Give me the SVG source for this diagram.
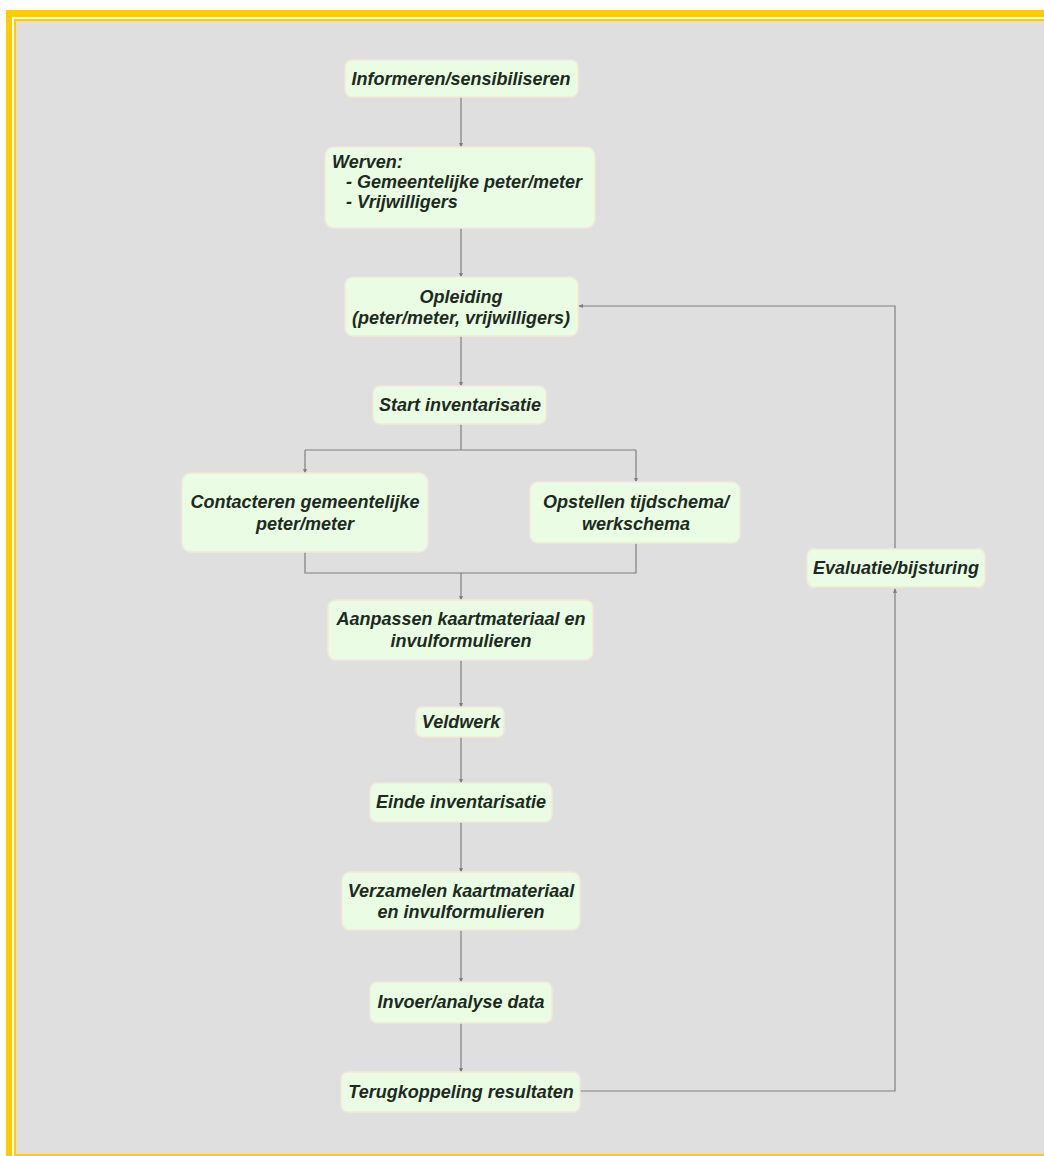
<svg xmlns="http://www.w3.org/2000/svg" width="1044" height="1156" viewBox="0 0 1044 1156">
<style>
.box{fill:#eafde4;stroke:#f2e9d8;stroke-width:1.5}
.t{font-family:"Liberation Sans",Arial,sans-serif;font-size:18px;font-weight:bold;font-style:italic;fill:#1d2a1f}
.c{text-anchor:middle}
.ln{fill:none;stroke:#7f7f7f;stroke-width:1.2}
</style>
<defs>
<marker id="ah" viewBox="0 0 6 6" refX="5" refY="3" markerWidth="5" markerHeight="5" orient="auto" markerUnits="userSpaceOnUse">
<path d="M0,0.5 L6,3 L0,5.5 z" fill="#7f7f7f"/>
</marker>
</defs>
<rect x="0" y="0" width="1044" height="1156" fill="#ffffff"/>
<rect x="6" y="10" width="1050" height="1160" fill="#ffcc00"/>
<rect x="12" y="17" width="1050" height="1160" fill="#ffffff"/>
<rect x="14" y="19" width="1050" height="1160" fill="#ffcc00"/>
<rect x="16" y="21" width="1050" height="1133" fill="#dfdfdf"/>

<g id="connectors">
<path class="ln" d="M461,97 V147" marker-end="url(#ah)"/>
<path class="ln" d="M461,228 V277" marker-end="url(#ah)"/>
<path class="ln" d="M461,336 V386" marker-end="url(#ah)"/>
<path class="ln" d="M461,424 V450 M305,450 H636"/>
<path class="ln" d="M305,450 V473" marker-end="url(#ah)"/>
<path class="ln" d="M636,450 V482" marker-end="url(#ah)"/>
<path class="ln" d="M305,552 V573 H636 V543 M461,573 V600" marker-end="url(#ah)"/>
<path class="ln" d="M461,660 V707" marker-end="url(#ah)"/>
<path class="ln" d="M461,737 V783" marker-end="url(#ah)"/>
<path class="ln" d="M461,822 V872" marker-end="url(#ah)"/>
<path class="ln" d="M461,930 V982" marker-end="url(#ah)"/>
<path class="ln" d="M461,1023 V1072" marker-end="url(#ah)"/>
<path class="ln" d="M580,1091 H895 V589" marker-end="url(#ah)"/>
<path class="ln" d="M895,549 V306 H579" marker-end="url(#ah)"/>
</g>

<g id="n1"><rect class="box" x="345" y="60" width="233" height="37" rx="7"/>
<text class="t c" x="461" y="85">Informeren/sensibiliseren</text></g>

<g id="n2"><rect class="box" x="325" y="147" width="270" height="81" rx="9"/>
<text class="t" x="332" y="168">Werven:</text>
<text class="t" x="346" y="188">- Gemeentelijke peter/meter</text>
<text class="t" x="346" y="208">- Vrijwilligers</text></g>

<g id="n3"><rect class="box" x="345" y="277" width="233" height="59" rx="8"/>
<text class="t c" x="461" y="303">Opleiding</text>
<text class="t c" x="461" y="324">(peter/meter, vrijwilligers)</text></g>

<g id="n4"><rect class="box" x="373" y="386" width="173" height="38" rx="7"/>
<text class="t c" x="460" y="411">Start inventarisatie</text></g>

<g id="n5"><rect class="box" x="182" y="473" width="246" height="79" rx="9"/>
<text class="t c" x="305" y="508">Contacteren gemeentelijke</text>
<text class="t c" x="305" y="530">peter/meter</text></g>

<g id="n6"><rect class="box" x="530" y="482" width="210" height="61" rx="8"/>
<text class="t c" x="636" y="508">Opstellen tijdschema/</text>
<text class="t c" x="636" y="530">werkschema</text></g>

<g id="n7"><rect class="box" x="328" y="600" width="265" height="60" rx="8"/>
<text class="t c" x="461" y="625">Aanpassen kaartmateriaal en</text>
<text class="t c" x="461" y="647">invulformulieren</text></g>

<g id="n8"><rect class="box" x="416" y="707" width="88" height="30" rx="6"/>
<text class="t c" x="461" y="728">Veldwerk</text></g>

<g id="n9"><rect class="box" x="370" y="783" width="182" height="39" rx="7"/>
<text class="t c" x="461" y="808">Einde inventarisatie</text></g>

<g id="n10"><rect class="box" x="342" y="872" width="238" height="58" rx="8"/>
<text class="t c" x="461" y="897">Verzamelen kaartmateriaal</text>
<text class="t c" x="461" y="918">en invulformulieren</text></g>

<g id="n11"><rect class="box" x="370" y="982" width="182" height="41" rx="7"/>
<text class="t c" x="461" y="1008">Invoer/analyse data</text></g>

<g id="n12"><rect class="box" x="341" y="1072" width="239" height="40" rx="7"/>
<text class="t c" x="461" y="1098">Terugkoppeling resultaten</text></g>

<g id="n13"><rect class="box" x="807" y="549" width="178" height="38" rx="7"/>
<text class="t c" x="896" y="574">Evaluatie/bijsturing</text></g>
</svg>
